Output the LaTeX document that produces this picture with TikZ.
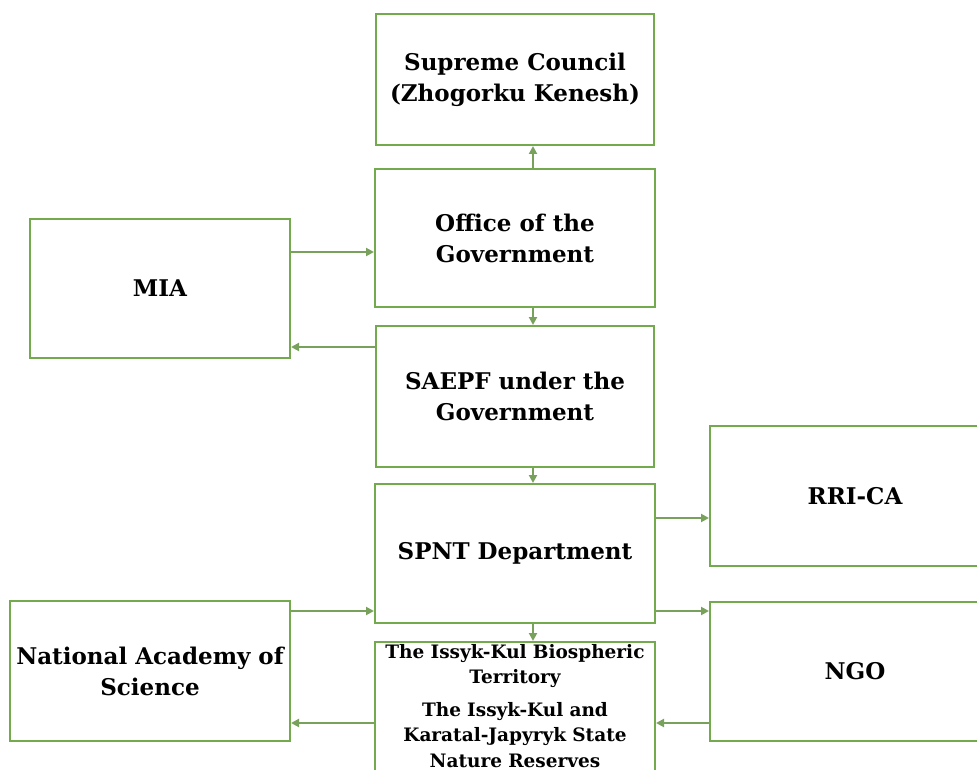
\documentclass[tikz,border=0pt]{standalone}
\usepackage{fontspec}
\setmainfont{DejaVu Serif}
\usetikzlibrary{arrows.meta, positioning, calc}
\definecolor{boxgreen}{RGB}{116,170,78}
\definecolor{linkgreen}{RGB}{120,162,92}

\begin{document}
\begin{tikzpicture}[
        x=1pt, y=-1pt,
        unit/.style={draw=boxgreen, line width=2pt, fill=white, align=center,
            inner sep=2pt, font=\bfseries\fontsize{23}{31}\selectfont},
        small/.style={font=\bfseries\fontsize{18.5}{25.5}\selectfont},
        link/.style={draw=linkgreen, line width=2pt, -{Triangle[length=8pt,width=8pt]}}
    ]

    % Page frame
    \useasboundingbox (0,0) rectangle (977,770);
    \clip (0,0) rectangle (977,770);

    % Central column
    \node[unit, minimum width=280pt, minimum height=138pt] (office) at (515,238) {Office of the\\Government};
    \node[unit, minimum width=278pt, minimum height=131pt, above=22pt of office] (sup) {Supreme Council\\(Zhogorku Kenesh)};
    \node[unit, minimum width=278pt, minimum height=141pt, below=17pt of office] (saepf) {SAEPF under the\\Government};
    \node[unit, minimum width=280pt, minimum height=139pt, below=15pt of saepf] (spnt) {SPNT Department};
    \node[unit, small, text width=276pt, anchor=north, below=17pt of spnt] (issyk)
        {The Issyk-Kul Biospheric\\Territory\\[7pt]The Issyk-Kul and\\Karatal-Japyryk State\\Nature Reserves\\ \mbox{}};

    % Side boxes
    \node[unit, minimum width=260pt, minimum height=139pt] (mia) at (160,288.5) {MIA};
    \node[unit, minimum width=280pt, minimum height=140pt] (nas) at (150,671) {National Academy of\\Science};
    \node[unit, minimum width=290pt, minimum height=140pt] (rrica) at (855,496) {RRI-CA};
    \node[unit, minimum width=290pt, minimum height=139pt] (ngo) at (855,671.5) {NGO};

    % Helper lines for the connectors
    \coordinate (spine) at (533,0);
    \coordinate (rowA) at (0,252);
    \coordinate (rowB) at (0,347);
    \coordinate (rowC) at (0,518);
    \coordinate (rowD) at (0,611);
    \coordinate (rowE) at (0,723);

    % Vertical links
    \draw[link] (office.north -| spine) -- (sup.south -| spine);
    \draw[link] (office.south -| spine) -- (saepf.north -| spine);
    \draw[link] (saepf.south -| spine) -- (spnt.north -| spine);
    \draw[link] (spnt.south -| spine) -- (issyk.north -| spine);

    % Horizontal links
    \draw[link] (mia.east |- rowA) -- (office.west |- rowA);
    \draw[link] (saepf.west |- rowB) -- (mia.east |- rowB);
    \draw[link] (spnt.east |- rowC) -- (rrica.west |- rowC);
    \draw[link] (spnt.east |- rowD) -- (ngo.west |- rowD);
    \draw[link] (nas.east |- rowD) -- (spnt.west |- rowD);
    \draw[link] (issyk.west |- rowE) -- (nas.east |- rowE);
    \draw[link] (ngo.west |- rowE) -- (issyk.east |- rowE);

\end{tikzpicture}
\end{document}
